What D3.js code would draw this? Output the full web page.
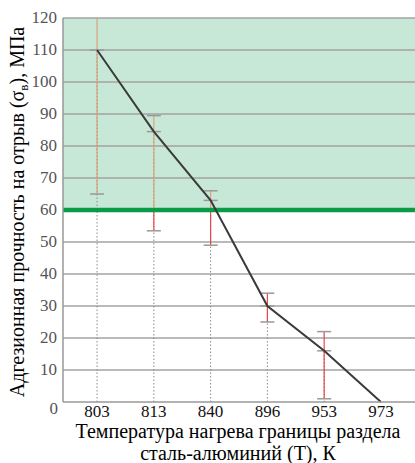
<!DOCTYPE html>
<html>
<head>
<meta charset="utf-8">
<script src="https://cdn.jsdelivr.net/npm/d3@7"></script>
</head>
<body style="margin:0">
<script>
// Temperatures (K) on the x axis
var temps = ["803", "813", "840", "896", "953", "973"];
// Adhesion strength, MPa
var strength = [110, 84.5, 63, 30, 16, 0];
// error bar ends, MPa (null = none)
var errLow = [65, 53.5, 49, 25, 1, null];
var errHigh = [155, 89.5, 66, 34, 22, null];
var yTicks = [10, 20, 30, 40, 50, 60, 70, 80, 90, 100, 110, 120];
var threshold = 60;

var W = 415, H = 463;
var serif = '"Liberation Serif", monospace';
// plot box (note: "top" is taken by window.top, so prefix these)
var pLeft = 63, pRight = 415, pTop = 18, pBottom = 402;

var svg = d3.select('body').append('svg')
    .attr('width', W)
    .attr('height', H)
    .style('display', 'block');

var x = d3.scalePoint().domain(temps).range([pLeft, pRight]).padding(0.6);
var y = d3.scaleLinear().domain([0, 120]).range([pBottom, pTop]);

var defs = svg.append('defs');
defs.append('clipPath').attr('id', 'clipUp')
    .append('rect').attr('x', pLeft).attr('y', pTop)
    .attr('width', pRight - pLeft).attr('height', y(threshold) - pTop);
defs.append('clipPath').attr('id', 'clipDown')
    .append('rect').attr('x', pLeft).attr('y', y(threshold))
    .attr('width', pRight - pLeft).attr('height', pBottom - y(threshold));

// green zone above the threshold
svg.append('rect')
    .attr('x', pLeft).attr('y', pTop)
    .attr('width', pRight - pLeft).attr('height', y(threshold) - pTop)
    .attr('fill', '#c8e8d7');

// horizontal grid
svg.append('g')
    .selectAll('line')
    .data(yTicks)
    .join('line')
    .attr('x1', pLeft).attr('x2', pRight)
    .attr('y1', d => y(d)).attr('y2', d => y(d))
    .attr('stroke', '#a3a3a3')
    .attr('stroke-width', 1.5);

// dotted drop lines
svg.append('g')
    .selectAll('line')
    .data(temps.slice(0, 5))
    .join('line')
    .attr('x1', d => x(d)).attr('x2', d => x(d))
    .attr('y1', y(0)).attr('y2', (d, i) => y(strength[i]))
    .attr('stroke', '#8a8a8a')
    .attr('stroke-width', 1)
    .attr('stroke-dasharray', '1.5,2');

// error bars, orange inside green zone, red below it
var errIdx = d3.range(temps.length).filter(i => errLow[i] != null);
[['clipUp', '#d9a27c'], ['clipDown', '#e8454a']].forEach(function(p) {
  svg.append('g').attr('clip-path', 'url(#' + p[0] + ')')
    .selectAll('line')
    .data(errIdx)
    .join('line')
    .attr('x1', i => x(temps[i])).attr('x2', i => x(temps[i]))
    .attr('y1', i => y(errLow[i])).attr('y2', i => y(Math.min(errHigh[i], 120)))
    .attr('stroke', p[1])
    .attr('stroke-width', 1.2);
});

// caps
var caps = [];
errIdx.forEach(function(i) {
  caps.push([i, errLow[i]]);
  caps.push([i, strength[i]]);
  if (errHigh[i] <= 120) caps.push([i, errHigh[i]]);
});
svg.append('g')
    .selectAll('line')
    .data(caps)
    .join('line')
    .attr('x1', d => x(temps[d[0]]) - 7).attr('x2', d => x(temps[d[0]]) + 7)
    .attr('y1', d => y(d[1])).attr('y2', d => y(d[1]))
    .attr('stroke', '#999')
    .attr('stroke-width', 1.5);

// threshold line
svg.append('line')
    .attr('x1', pLeft).attr('x2', pRight)
    .attr('y1', y(threshold)).attr('y2', y(threshold))
    .attr('stroke', '#0b9a45')
    .attr('stroke-width', 4.5);

// data line
svg.append('path')
    .datum(strength)
    .attr('d', d3.line().x((d, i) => x(temps[i])).y(d => y(d)))
    .attr('fill', 'none')
    .attr('stroke', '#3a3a3a')
    .attr('stroke-width', 2);

// axis lines
svg.append('line')
    .attr('x1', pLeft).attr('x2', pLeft).attr('y1', pTop).attr('y2', pBottom)
    .attr('stroke', '#999').attr('stroke-width', 1.5);
svg.append('line')
    .attr('x1', pLeft).attr('x2', pRight).attr('y1', pBottom).attr('y2', pBottom)
    .attr('stroke', '#999').attr('stroke-width', 1.5);

// y axis labels
svg.append('g')
    .selectAll('text')
    .data(yTicks)
    .join('text')
    .attr('x', pLeft - 6).attr('y', d => y(d))
    .attr('dy', '0.32em')
    .attr('text-anchor', 'end')
    .attr('fill', '#555')
    .attr('font-size', 17)
    .style('font-family', serif)
    .text(d => d);
svg.append('text')
    .attr('x', 58).attr('y', 414)
    .attr('text-anchor', 'end')
    .attr('fill', '#555')
    .attr('font-size', 17)
    .style('font-family', serif)
    .text('0');

// x axis labels
svg.append('g')
    .selectAll('text')
    .data(temps)
    .join('text')
    .attr('x', d => x(d)).attr('y', pBottom + 15)
    .attr('text-anchor', 'middle')
    .attr('fill', '#111')
    .attr('font-size', 17)
    .style('font-family', serif)
    .text(d => d);

// axis titles
svg.append('text')
    .attr('x', 238).attr('y', 438)
    .attr('text-anchor', 'middle')
    .attr('font-size', 20)
    .style('font-family', serif)
    .text('Температура нагрева границы раздела');
svg.append('text')
    .attr('x', 238).attr('y', 460)
    .attr('text-anchor', 'middle')
    .attr('font-size', 20)
    .style('font-family', serif)
    .text('сталь-алюминий (Т), К');

var yt = svg.append('text')
    .attr('transform', 'translate(24,' + ((pTop + pBottom) / 2 + 2) + ') rotate(-90)')
    .attr('text-anchor', 'middle')
    .attr('font-size', 20)
    .style('font-family', serif);
yt.append('tspan').text('Адгезионная прочность на отрыв (σ');
yt.append('tspan').attr('font-size', 13).attr('dy', 4).text('в');
yt.append('tspan').attr('dy', -4).text('), МПа');
</script>
</body>
</html>
